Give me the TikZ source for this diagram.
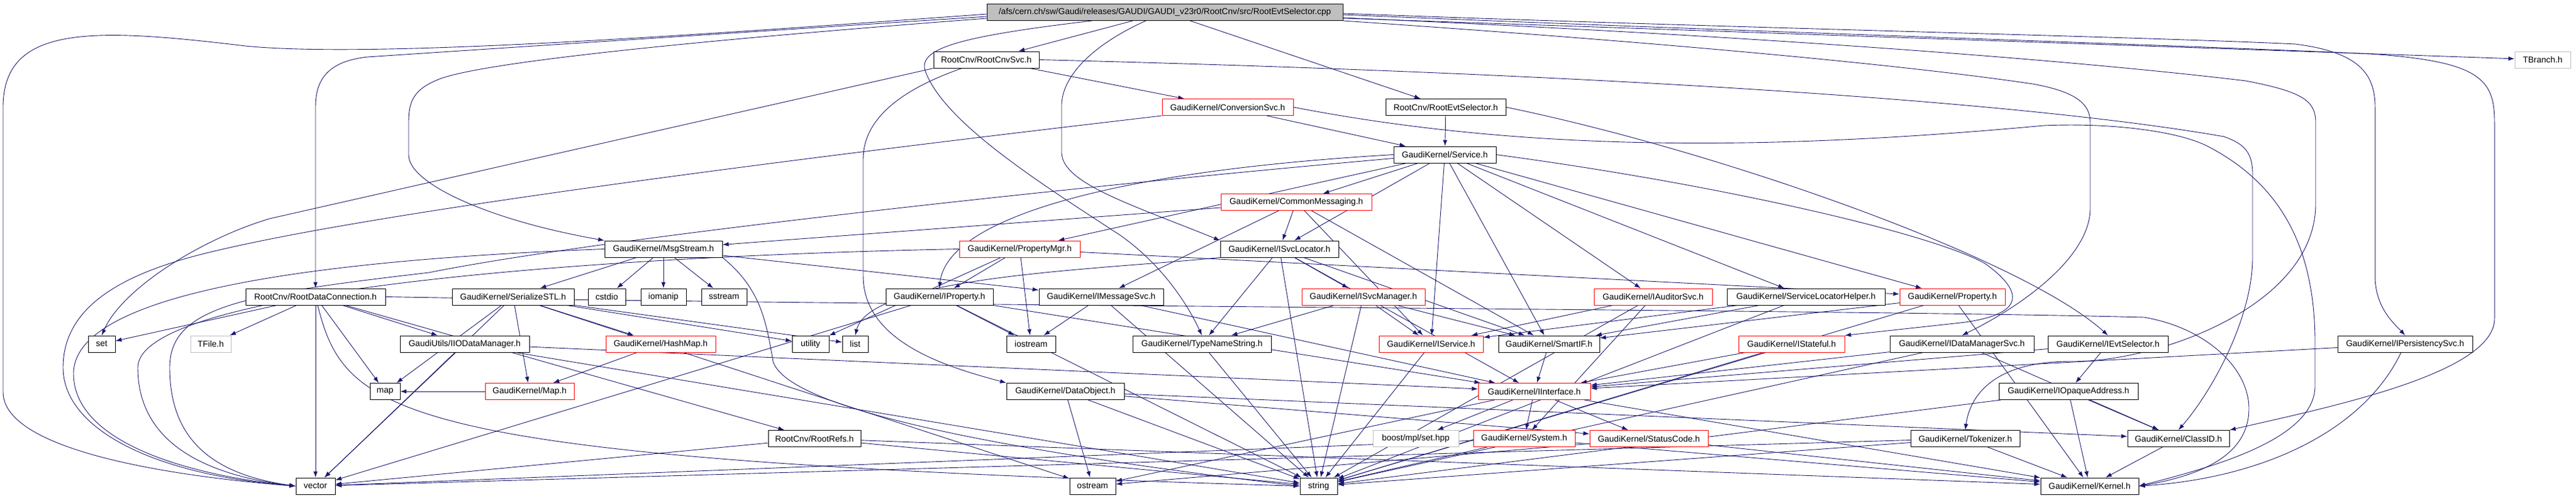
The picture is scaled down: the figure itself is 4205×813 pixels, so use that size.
\documentclass[tikz,border=0pt]{standalone}
\usepackage{fontspec}
\setmainfont{Liberation Sans}
\usetikzlibrary{arrows.meta}
\usetikzlibrary{backgrounds}
\definecolor{edgeblue}{HTML}{191970}
\definecolor{lightgrey}{HTML}{BFBFBF}
\tikzset{
    header/.style={
        draw=black,
        fill=white,
        line width=0.9pt,
        minimum height=27pt,
        inner sep=0pt,
        font=\fontsize{14}{16}\selectfont},
    partial/.style={header, draw=red},
    external/.style={header, draw=lightgrey},
    source/.style={header, fill=lightgrey},
    every edge/.style={
        draw,
        ->,>={Latex[length=10pt,width=7pt]},
        edgeblue,
        line width=0.9pt},
    dep/.style={
        ->,>={Latex[length=10pt,width=7pt]},
        edgeblue,
        line width=0.9pt}}

\begin{document}
\begin{tikzpicture}[x=1pt, y=-1pt]
        \useasboundingbox (0,0) rectangle (4205,813);

        % rows 0 to 5
        \node[source, minimum width=581pt] (root) at (1901.5,20) {/afs/cern.ch/sw/Gaudi/releases/GAUDI/GAUDI\_v23r0/RootCnv/src/RootEvtSelector.cpp};
        \node[header, minimum width=172pt] (cnvsvc) at (1610,97.5) {RootCnv/RootCnvSvc.h};
        \node[external, minimum width=91pt] (tbranch) at (4150.5,97.5) {TBranch.h};
        \node[partial, minimum width=214pt] (convsvc) at (2004,175) {GaudiKernel/ConversionSvc.h};
        \node[header, minimum width=196pt] (evtsel) at (2360,175) {RootCnv/RootEvtSelector.h};
        \node[header, minimum width=167pt] (service) at (2358.5,252.5) {GaudiKernel/Service.h};
        \node[partial, minimum width=246pt] (commsg) at (2116,330) {GaudiKernel/CommonMessaging.h};
        \node[header, minimum width=192pt] (msgstream) at (1083,406.5) {GaudiKernel/MsgStream.h};
        \node[partial, minimum width=197pt] (propmgr) at (1664.5,406.5) {GaudiKernel/PropertyMgr.h};
        \node[header, minimum width=193pt] (svcloc) at (2088.5,406.5) {GaudiKernel/ISvcLocator.h};

        % row 6
        \node[header, minimum width=228pt] (rdc) at (515,484.5) {RootCnv/RootDataConnection.h};
        \node[header, minimum width=199pt] (serial) at (837.5,484.5) {GaudiKernel/SerializeSTL.h};
        \node[header, minimum width=61pt] (cstdio) at (990.5,484.5) {cstdio};
        \node[header, minimum width=74pt] (iomanip) at (1083,484.5) {iomanip};
        \node[header, minimum width=74pt] (sstream) at (1182,484.5) {sstream};
        \node[header, minimum width=175pt] (iprop) at (1533.5,484.5) {GaudiKernel/IProperty.h};
        \node[header, minimum width=203pt] (imsgsvc) at (1797.5,484.5) {GaudiKernel/IMessageSvc.h};
        \node[partial, minimum width=201pt] (isvcmgr) at (2225.5,484.5) {GaudiKernel/ISvcManager.h};
        \node[partial, minimum width=193pt] (iaudsvc) at (2698.5,484.5) {GaudiKernel/IAuditorSvc.h};
        \node[header, minimum width=258pt] (slhelper) at (2948,484.5) {GaudiKernel/ServiceLocatorHelper.h};
        \node[partial, minimum width=172pt] (property) at (3187,484.5) {GaudiKernel/Property.h};

        % row 7
        \node[header, minimum width=44pt] (set) at (166,561.5) {set};
        \node[external, minimum width=66pt] (tfile) at (344,561.5) {TFile.h};
        \node[header, minimum width=211pt] (iiodm) at (758.5,561.5) {GaudiUtils/IIODataManager.h};
        \node[partial, minimum width=179pt] (hashmap) at (1078.5,561.5) {GaudiKernel/HashMap.h};
        \node[header, minimum width=60pt] (utility) at (1323,561.5) {utility};
        \node[header, minimum width=42pt] (list) at (1396,561.5) {list};
        \node[header, minimum width=80pt] (iostream) at (1683,561.5) {iostream};
        \node[header, minimum width=226pt] (typename) at (1962,561.5) {GaudiKernel/TypeNameString.h};
        \node[partial, minimum width=170pt] (iservice) at (2336,561.5) {GaudiKernel/IService.h};
        \node[header, minimum width=165pt] (smartif) at (2528.5,561.5) {GaudiKernel/SmartIF.h};
        \node[partial, minimum width=173pt] (istateful) at (2924.5,561.5) {GaudiKernel/IStateful.h};
        \node[header, minimum width=235pt] (idmsvc) at (3202.5,561.5) {GaudiKernel/IDataManagerSvc.h};
        \node[header, minimum width=196pt] (ievtsel) at (3441,561.5) {GaudiKernel/IEvtSelector.h};
        \node[header, minimum width=220pt] (ipersist) at (3926,561.5) {GaudiKernel/IPersistencySvc.h};

        % rows 8 to 10
        \node[header, minimum width=49pt] (map) at (628.5,639) {map};
        \node[partial, minimum width=145pt] (gmap) at (864.5,639) {GaudiKernel/Map.h};
        \node[header, minimum width=192pt] (dataobj) at (1739,639) {GaudiKernel/DataObject.h};
        \node[partial, minimum width=183pt] (iiface) at (2504.5,639) {GaudiKernel/IInterface.h};
        \node[header, minimum width=227pt] (iopaque) at (3376.5,639) {GaudiKernel/IOpaqueAddress.h};
        \node[header, minimum width=151pt] (rootrefs) at (1329.5,716) {RootCnv/RootRefs.h};
        \node[external, minimum width=140pt] (boostset) at (2311,716) {boost/mpl/set.hpp};
        \node[partial, minimum width=166pt] (system) at (2488,716) {GaudiKernel/System.h};
        \node[partial, minimum width=193pt] (statuscode) at (2691.5,716) {GaudiKernel/StatusCode.h};
        \node[header, minimum width=178pt] (tokenizer) at (3208,716) {GaudiKernel/Tokenizer.h};
        \node[header, minimum width=166pt] (classid) at (3556,716) {GaudiKernel/ClassID.h};
        \node[header, minimum width=64pt] (vector) at (515,793.5) {vector};
        \node[header, minimum width=75pt] (ostream) at (1783.5,793.5) {ostream};
        \node[header, minimum width=61pt] (string) at (2152.5,793.5) {string};
        \node[header, minimum width=160pt] (kernel) at (3411,793.5) {GaudiKernel/Kernel.h};

        \begin{scope}[on background layer]
        % the source file
        \draw (root) edge (cnvsvc);
        \draw (root) edge (evtsel);
        \draw (root) edge (tbranch);
        \draw[dep] ([yshift=-3pt]root.west) .. controls (1100,60) and (600,95) .. (400,75) .. controls (150,45) and (5,40) .. (5,175) -- (5,640) .. controls (5,730) and (250,775) .. (vector.west);
        \draw[dep] ([yshift=-7pt]root.west) .. controls (1100,60) and (720,85) .. (600,93) .. controls (535,100) and (515,130) .. (515,175) -- (rdc.north);
        \draw[dep] ([yshift=-10pt]root.west) .. controls (1150,65) and (800,100) .. (720,128) .. controls (675,145) and (667,165) .. (667,200) -- (667,253) .. controls (667,300) and (800,360) .. (msgstream.north west);
        \draw[dep] (root) .. controls (1560,60) and (1500,80) .. (1510,115) .. controls (1540,200) and (1700,300) .. (1830,385) .. controls (1900,435) and (1940,500) .. (typename.north);
        \draw[dep] (root) .. controls (1790,70) and (1735,120) .. (1733,170) -- (1733,250) .. controls (1735,300) and (1850,335) .. (svcloc.north west);
        \draw[dep] ([yshift=-2pt]root.east) .. controls (2800,45) and (3500,60) .. (3747,72) .. controls (3850,85) and (3877,120) .. (3877,175) -- (3877,455) .. controls (3879,505) and (3910,530) .. (ipersist.north);
        \draw[dep] ([yshift=-4pt]root.east) .. controls (2800,50) and (3600,75) .. (3869,88) .. controls (4050,100) and (4072,130) .. (4072,200) -- (4072,520) .. controls (4072,610) and (3800,665) .. (classid.north east);
        \draw[dep] (root.south east) .. controls (2800,75) and (3150,112) .. (3318,137) .. controls (3390,150) and (3412,170) .. (3412,200) -- (3412,340) .. controls (3412,420) and (3300,500) .. (idmsvc.north);
        \draw[dep] ([yshift=-9pt]root.east) .. controls (2900,60) and (3400,100) .. (3666,132) .. controls (3760,150) and (3780,165) .. (3780,200) -- (3780,333) .. controls (3780,500) and (3520,592) .. (3380,590) .. controls (3250,590) and (3215,650) .. (tokenizer.north);

        % RootCnv headers
        \draw (cnvsvc) edge (convsvc);
        \draw[dep] (cnvsvc.south west) -- (440,357) .. controls (330,390) and (200,470) .. (set.north);
        \draw[dep] (cnvsvc) .. controls (1460,150) and (1409,200) .. (1409,260) -- (1409,450) .. controls (1409,560) and (1550,600) .. (dataobj.north west);
        \draw[dep] (cnvsvc.east) .. controls (2600,120) and (3300,165) .. (3630,223) .. controls (3665,235) and (3677,250) .. (3677,285) -- (3677,420) .. controls (3677,520) and (3610,640) .. (classid.north);
        \draw (convsvc) edge (service);
        \draw[dep] (convsvc.south west) .. controls (1200,270) and (600,350) .. (350,410) .. controls (200,445) and (103,500) .. (103,600) .. controls (103,700) and (250,775) .. (vector.west);
        \draw[dep] (convsvc.east) .. controls (2500,250) and (2900,245) .. (3336,205) .. controls (3450,200) and (3560,215) .. (3606,240) .. controls (3720,300) and (3779,400) .. (3779,560) -- (3779,630) .. controls (3779,720) and (3600,765) .. (kernel.east);
        \draw (evtsel) edge (service);
        \draw[dep] (evtsel.east) .. controls (2800,245) and (3300,420) .. (ievtsel.north);

        % Service
        \draw (service) edge (commsg);
        \draw (service) edge (svcloc);
        \draw (service) edge (iservice);
        \draw (service) edge (smartif);
        \draw (service) edge (iaudsvc);
        \draw (service) edge (slhelper);
        \draw (service) edge (property);
        \draw (service) edge (propmgr);
        \draw[dep] (service.west) .. controls (1800,280) and (1545,360) .. (iprop.north);
        \draw[dep] ([yshift=-6pt]service.west) .. controls (1800,300) and (1000,385) .. (700,445) .. controls (400,480) and (277,500) .. (277,600) .. controls (277,720) and (350,775) .. (vector.west);
        \draw[dep] (service.east) .. controls (2800,300) and (3150,380) .. (3240,430) .. controls (3310,480) and (3300,515) .. (3200,527) -- (istateful.north east);
        \draw (commsg) edge (msgstream);
        \draw (commsg) edge (svcloc);
        \draw (commsg) edge (imsgsvc);
        \draw (commsg) edge (iservice);
        \draw (commsg) edge (smartif);

        % MsgStream and PropertyMgr
        \draw (msgstream) edge (serial);
        \draw (msgstream) edge (cstdio);
        \draw (msgstream) edge (iomanip);
        \draw (msgstream) edge (sstream);
        \draw (msgstream) edge (imsgsvc);
        \draw[dep] (msgstream.south east) .. controls (1240,470) and (1250,520) .. (1262,590) .. controls (1280,650) and (1500,720) .. (string.west);
        \draw[dep] (msgstream.west) .. controls (500,425) and (120,480) .. (120,610) .. controls (120,720) and (300,775) .. (vector.west);
        \draw (propmgr) edge (iprop);
        \draw (propmgr) edge (iostream);
        \draw (propmgr) edge (property);
        \draw (propmgr) edge (utility);
        \draw[dep] (propmgr.west) .. controls (900,420) and (225,480) .. (225,600) .. controls (225,720) and (330,775) .. (vector.west);

        % ISvcLocator and friends
        \draw (svcloc) edge (isvcmgr);
        \draw (svcloc) edge (typename);
        \draw (svcloc) edge (string);
        \draw (svcloc) edge (smartif);
        \draw (svcloc) edge (iiface);
        \draw[dep] (svcloc.south west) .. controls (1800,440) and (1420,450) .. (list.north);
        \draw (isvcmgr) edge (iservice);
        \draw (isvcmgr) edge (smartif);
        \draw (isvcmgr) edge (string);
        \draw (isvcmgr) edge (typename);
        \draw (iaudsvc) edge (iservice);
        \draw (iaudsvc) edge (system);
        \draw (iaudsvc) edge (string);
        \draw (slhelper) edge (iservice);
        \draw (slhelper) edge (smartif);
        \draw (slhelper) edge (string);
        \draw (property) edge (smartif);
        \draw (property) edge (kernel);
        \draw (property) edge (string);
        \draw (iprop) edge (iiface);
        \draw (iprop) edge (iostream);
        \draw (iprop) edge (string);
        \draw (iprop) edge (vector);
        \draw (imsgsvc) edge (iostream);
        \draw (imsgsvc) edge (iiface);
        \draw (imsgsvc) edge (string);

        % RootDataConnection and SerializeSTL
        \draw (rdc) edge (set);
        \draw (rdc) edge (tfile);
        \draw (rdc) edge (vector);
        \draw (rdc) edge (map);
        \draw (rdc) edge (iiodm);
        \draw (rdc) edge (rootrefs);
        \draw[dep] (rdc) .. controls (565,680) and (640,750) .. (string.west);
        \draw[dep] (rdc.east) .. controls (1500,500) and (3000,505) .. (3500,518) .. controls (3600,535) and (3671,600) .. (3671,667) .. controls (3671,740) and (3600,775) .. (kernel.east);
        \draw (serial) edge (gmap);
        \draw (serial) edge (hashmap);
        \draw (serial) edge (utility);
        \draw (serial) edge (list);
        \draw (serial) edge (ostream);
        \draw (serial) edge (vector);
        \draw (serial) edge (map);
        \draw (iiodm) edge (iiface);
        \draw (iiodm) edge (vector);
        \draw (iiodm) edge (string);
        \draw (hashmap) edge (gmap);
        \draw (gmap) edge (map);

        % interfaces
        \draw (typename) edge (string);
        \draw (iservice) edge (string);
        \draw (smartif) edge (iiface);
        \draw (istateful) edge (iiface);
        \draw (istateful) edge (string);
        \draw (idmsvc) edge (iiface);
        \draw (idmsvc) edge (classid);
        \draw (idmsvc) edge (string);
        \draw (ievtsel) edge (iopaque);
        \draw (ievtsel) edge (iiface);
        \draw (ipersist) edge (iiface);
        \draw[dep] (ipersist) .. controls (3860,700) and (3700,780) .. (kernel.east);
        \draw (dataobj) edge (ostream);
        \draw (dataobj) edge (string);
        \draw (dataobj) edge (classid);
        \draw (dataobj) edge (statuscode);
        \draw (iiface) edge (boostset);
        \draw (iiface) edge (system);
        \draw (iiface) edge (statuscode);
        \draw (iiface) edge (kernel);
        \draw (iiface) edge (ostream);
        \draw (iopaque) edge (kernel);
        \draw (iopaque) edge (classid);
        \draw (iopaque) edge (string);

        % bottom rows
        \draw (rootrefs) edge (vector);
        \draw (rootrefs) edge (string);
        \draw (rootrefs) edge (kernel);
        \draw (system) edge (string);
        \draw (system) edge (kernel);
        \draw (system) edge (vector);
        \draw (statuscode) edge (ostream);
        \draw (statuscode) edge (kernel);
        \draw (tokenizer) edge (kernel);
        \draw (tokenizer) edge (string);
        \draw (tokenizer) edge (vector);
        \draw (classid) edge (kernel);
        \end{scope}
\end{tikzpicture}
\end{document}
